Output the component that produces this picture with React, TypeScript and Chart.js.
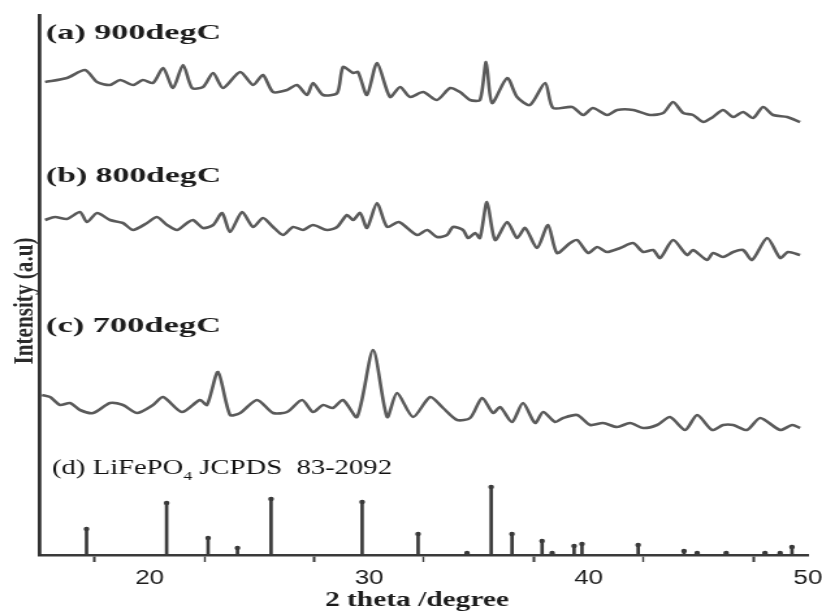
import React, { useEffect, useRef } from 'react';
import { Chart, registerables } from 'chart.js';

Chart.register(...registerables);

// ---- data (2θ in degrees, intensity in plot units incl. stacking offset) ----
const thetaA = [15.23, 16.23, 17.05, 17.6, 18.19, 18.65, 19.24, 19.69, 20.15, 20.61, 21.06, 21.52, 21.93, 22.43, 22.89, 23.34, 24.12, 24.71, 25.16, 25.62, 26.26, 26.71, 27.17, 27.44, 27.9, 28.54, 28.81, 29.27, 29.49, 29.9, 30.36, 30.95, 31.41, 31.86, 32.46, 33.09, 33.69, 34.14, 34.6, 35.05, 35.33, 35.6, 36.29, 36.74, 37.33, 38.02, 38.38, 39.25, 39.75, 40.2, 40.84, 41.3, 42.03, 42.8, 43.4, 43.85, 44.31, 44.76, 45.22, 45.67, 46.13, 46.59, 47.04, 47.5, 47.95, 48.41, 49.05, 49.64];
const intensityA = [473, 477, 485, 473, 470, 475, 470, 475, 472, 487, 467, 490, 467, 468, 482, 467, 483, 470, 480, 463, 465, 470, 460, 472, 460, 462, 488, 482, 483, 460, 492, 458, 468, 458, 463, 455, 467, 463, 455, 455, 493, 452, 477, 458, 450, 472, 447, 448, 440, 447, 440, 445, 445, 440, 442, 453, 442, 440, 433, 438, 445, 438, 443, 437, 448, 440, 438, 433];

const thetaB = [15.23, 15.68, 16.23, 16.82, 17.14, 17.6, 18.19, 18.78, 19.24, 19.88, 20.33, 20.79, 21.24, 21.7, 21.97, 22.43, 22.89, 23.3, 23.66, 24.21, 24.71, 25.16, 25.62, 26.08, 26.53, 26.99, 27.44, 28.08, 28.54, 28.99, 29.27, 29.59, 29.9, 30.36, 30.82, 31.35, 32.18, 32.64, 33.09, 33.55, 33.82, 34.28, 34.51, 34.83, 35.05, 35.37, 35.74, 36.29, 36.74, 37.11, 37.65, 38.15, 38.56, 39.16, 39.48, 39.98, 40.39, 40.84, 41.44, 42.03, 42.48, 42.94, 43.26, 43.85, 44.49, 44.76, 45.4, 45.67, 46.13, 46.59, 47.04, 47.45, 48.14, 48.73, 49.09, 49.64];
const intensityB = [335, 338, 336, 343, 333, 342, 335, 332, 325, 332, 338, 330, 325, 332, 335, 327, 330, 342, 323, 343, 328, 337, 328, 320, 328, 325, 330, 325, 328, 340, 335, 342, 327, 352, 328, 333, 320, 325, 318, 320, 328, 325, 317, 322, 317, 353, 315, 333, 317, 327, 307, 330, 302, 312, 315, 302, 308, 303, 307, 312, 303, 305, 297, 315, 300, 305, 295, 302, 298, 303, 305, 295, 317, 297, 303, 300];

const thetaC = [15.09, 15.46, 15.91, 16.37, 16.82, 17.42, 18.19, 18.78, 19.42, 20.15, 20.61, 21.47, 22.29, 22.61, 23.11, 23.66, 24.12, 24.89, 25.62, 26.26, 26.94, 27.44, 27.9, 28.35, 28.81, 29.45, 30.18, 30.82, 31.27, 32.0, 32.78, 33.37, 34.01, 34.6, 35.15, 35.65, 35.97, 36.51, 37.01, 37.56, 37.93, 38.47, 38.84, 39.48, 40.07, 40.66, 41.3, 41.89, 42.48, 43.12, 43.71, 44.4, 44.95, 45.63, 46.13, 46.59, 47.22, 47.82, 48.73, 49.28, 49.64];
const intensityC = [160, 158, 150, 152, 145, 142, 152, 150, 142, 150, 158, 143, 155, 150, 183, 140, 142, 155, 142, 143, 155, 143, 150, 147, 155, 138, 205, 138, 162, 138, 158, 147, 135, 137, 157, 142, 148, 133, 152, 132, 143, 133, 137, 140, 130, 132, 128, 132, 127, 130, 138, 125, 140, 125, 130, 130, 125, 137, 125, 130, 127];

// JCPDS 83-2092 reference lines
const stickTheta = [17.12, 20.77, 22.66, 24.0, 25.53, 29.68, 32.23, 34.46, 35.56, 36.51, 37.88, 38.34, 39.34, 39.7, 42.26, 44.35, 44.95, 46.27, 48.04, 48.73, 49.27];
const stickIntensity = [26, 52, 17, 7, 56, 53, 21, 2, 68, 21, 14, 2, 9, 11, 10, 4, 2, 2, 2, 2, 8];

const panelLabels = ['(a) 900degC', '(b) 800degC', '(c) 700degC'];
const refLabelParts = ['(d) LiFePO', '4', ' JCPDS  83-2092'];
const xTitle = '2 theta /degree';
const yTitle = 'Intensity (a.u)';
const xTickValues = [20, 30, 40, 50];

// ---- layout ----
const VIEW_W = 822;
const CANVAS_W = 632;
const H = 614;
const S = VIEW_W / CANVAS_W; // the figure is stretched horizontally
const SERIF = "'Liberation Serif', 'Times New Roman', serif";
const SANS = "'Liberation Sans', Arial, sans-serif";

function pairs(xs: number[], ys: number[]) {
  return xs.map((x, i) => ({ x, y: ys[i] }));
}

function fitText(ctx: CanvasRenderingContext2D, text: string, x: number, y: number, w: number, font: string, align: CanvasTextAlign) {
  ctx.font = font;
  const m = ctx.measureText(text).width;
  const k = w / m;
  ctx.save();
  ctx.translate(x, y);
  ctx.scale(k, 1);
  ctx.textAlign = align;
  ctx.fillText(text, 0, 0);
  ctx.restore();
}

const textPlugin = {
  id: 'xrdText',
  afterDraw(chart: any) {
    const ctx: CanvasRenderingContext2D = chart.ctx;
    ctx.save();
    ctx.textBaseline = 'alphabetic';
    ctx.fillStyle = '#1c1c1c';
    const baselines = [39, 182, 332];
    panelLabels.forEach((t, i) => {
      fitText(ctx, t, 46 / S, baselines[i], 175 / S, `bold 22px ${SERIF}`, 'left');
    });

    // (d) label with subscript
    const fMain = `21px ${SERIF}`;
    const fSub = `13px ${SERIF}`;
    ctx.fillStyle = '#111';
    ctx.font = fMain;
    const w1 = ctx.measureText(refLabelParts[0]).width;
    const w3 = ctx.measureText(refLabelParts[2]).width;
    ctx.font = fSub;
    const w2 = ctx.measureText(refLabelParts[1]).width;
    const k = (340 / S) / (w1 + w2 + w3);
    ctx.save();
    ctx.translate(52 / S, 474);
    ctx.scale(k, 1);
    ctx.textAlign = 'left';
    ctx.font = fMain;
    ctx.fillText(refLabelParts[0], 0, 0);
    ctx.font = fSub;
    ctx.fillText(refLabelParts[1], w1, 6);
    ctx.font = fMain;
    ctx.fillText(refLabelParts[2], w1 + w2, 0);
    ctx.restore();

    // x-axis title
    ctx.fillStyle = '#1c1c1c';
    fitText(ctx, xTitle, 417 / S, 606, 184 / S, `bold 20px ${SERIF}`, 'center');

    // y-axis title (rotated)
    ctx.fillStyle = '#2a2a2a';
    ctx.save();
    ctx.translate(32 / S, 301);
    ctx.rotate(-Math.PI / 2);
    fitText(ctx, yTitle, 0, 0, 127, `bold 20px ${SERIF}`, 'center');
    ctx.restore();
    ctx.restore();
  },
};

export default function App() {
  const ref = useRef<HTMLCanvasElement | null>(null);

  useEffect(() => {
    document.body.style.margin = '0';
    const canvas = ref.current;
    if (!canvas) return;
    const curve = (xs: number[], ys: number[]) => ({
      type: 'line' as const,
      data: pairs(xs, ys),
      borderColor: '#5a5a5a',
      borderWidth: 2.6,
      pointRadius: 0,
      tension: 0.25,
      fill: false,
    });
    const chart = new Chart(canvas, {
      type: 'line',
      data: {
        datasets: [
          curve(thetaA, intensityA),
          curve(thetaB, intensityB),
          curve(thetaC, intensityC),
          {
            type: 'bar' as const,
            data: pairs(stickTheta, stickIntensity),
            backgroundColor: '#3a3a3a',
            borderWidth: 0,
            barThickness: 2,
          } as any,
          {
            type: 'line' as const,
            data: pairs(stickTheta, stickIntensity),
            showLine: false,
            pointRadius: 2.2,
            pointBackgroundColor: '#3a3a3a',
            pointBorderWidth: 0,
          },
        ],
      },
      options: {
        animation: false,
        responsive: false,
        maintainAspectRatio: false,
        events: [],
        layout: { padding: { top: 15, right: CANVAS_W - 808 / S, left: 0, bottom: 0 } },
        plugins: { legend: { display: false }, tooltip: { enabled: false } },
        scales: {
          x: {
            type: 'linear',
            min: 15,
            max: 50,
            offset: false,
            afterFit: (s: any) => {
              s.height = H - 555;
              s.paddingLeft = 0;
              s.paddingRight = 0;
            },
            ticks: {
              stepSize: 5,
              autoSkip: false,
              maxRotation: 0,
              padding: 4,
              color: '#1e1e1e',
              font: { family: SANS, size: 20 },
              callback: (v: any) => (xTickValues.includes(Number(v)) ? String(v) : ''),
            },
            grid: {
              display: true,
              drawOnChartArea: false,
              drawTicks: true,
              tickLength: 7,
              tickColor: '#3a3a3a',
              tickWidth: (c: any) => (c.tick && c.tick.value % 10 === 0 ? 2 : 1.4),
            },
            border: { display: true, color: '#3a3a3a', width: 2.6 },
          },
          y: {
            type: 'linear',
            min: 0,
            max: 540,
            afterFit: (s: any) => {
              s.width = 40 / S;
            },
            ticks: { display: false },
            grid: { display: false },
            border: { display: true, color: '#333', width: 2.8 },
          },
        },
      } as any,
      plugins: [textPlugin],
    });
    return () => chart.destroy();
  }, []);

  return (
    <div style={{ position: 'absolute', left: 0, top: 0, width: VIEW_W, height: H, background: '#fff' }}>
      <canvas ref={ref} width={CANVAS_W} height={H} style={{ width: VIEW_W + 'px', height: H + 'px', display: 'block' }} />
    </div>
  );
}
